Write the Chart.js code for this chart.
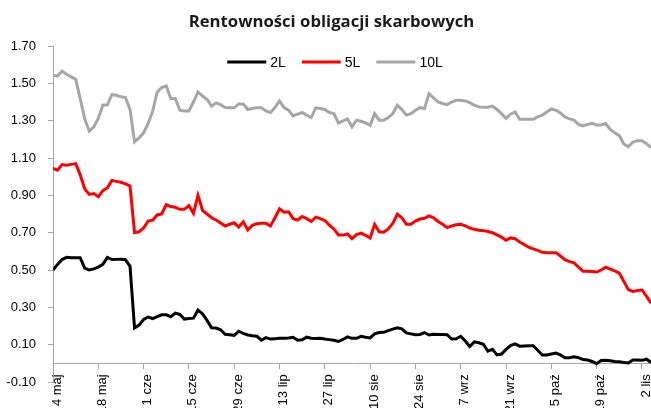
<!DOCTYPE html>
<html>
<head>
<meta charset="utf-8">
<script src="https://cdn.jsdelivr.net/npm/chart.js@4.4.1/dist/chart.umd.min.js"></script>
<style>
  html, body { margin: 0; padding: 0; background: #fff; }
  #wrap { width: 651px; height: 408px; }
</style>
</head>
<body>
<div id="wrap"><canvas id="rentownosci"></canvas></div>
<script>
// Rentowności obligacji skarbowych (dni robocze od 4 maja)

const tickLabels = ["4 maj", "18 maj", "1 cze", "15 cze", "29 cze", "13 lip", "27 lip",
  "10 sie", "24 sie", "7 wrz", "21 wrz", "5 paź", "19 paź", "2 lis"];

const seriesNames = ["2L", "5L", "10L"];

const y2L = [
  0.500, 0.530, 0.556, 0.568, 0.566, 0.566, 0.566, 0.510, 0.500, 0.506,
  0.516, 0.530, 0.568, 0.556, 0.557, 0.558, 0.555, 0.520, 0.190, 0.205,
  0.235, 0.248, 0.240, 0.250, 0.260, 0.260, 0.250, 0.269, 0.262, 0.237,
  0.240, 0.242, 0.285, 0.265, 0.230, 0.190, 0.189, 0.180, 0.156, 0.153,
  0.150, 0.172, 0.160, 0.152, 0.148, 0.145, 0.124, 0.138, 0.130, 0.132,
  0.134, 0.135, 0.136, 0.140, 0.124, 0.126, 0.140, 0.135, 0.133, 0.134,
  0.130, 0.127, 0.124, 0.117, 0.128, 0.142, 0.134, 0.134, 0.145, 0.140,
  0.136, 0.158, 0.165, 0.166, 0.175, 0.183, 0.190, 0.185, 0.163, 0.158,
  0.153, 0.155, 0.165, 0.152, 0.156, 0.155, 0.154, 0.153, 0.130, 0.132,
  0.145, 0.120, 0.090, 0.115, 0.110, 0.102, 0.065, 0.075, 0.045, 0.050,
  0.075, 0.095, 0.104, 0.092, 0.093, 0.094, 0.094, 0.070, 0.045, 0.045,
  0.050, 0.055, 0.045, 0.030, 0.030, 0.035, 0.030, 0.020, 0.018, 0.010,
  -0.002, 0.015, 0.017, 0.014, 0.010, 0.008, 0.005, 0.002, 0.018, 0.018,
  0.016, 0.022, 0.005
];

const y5L = [
  1.044, 1.035, 1.065, 1.062, 1.066, 1.070, 1.010, 0.935, 0.905, 0.910,
  0.893, 0.925, 0.940, 0.980, 0.975, 0.970, 0.962, 0.950, 0.700, 0.705,
  0.725, 0.762, 0.767, 0.795, 0.800, 0.850, 0.840, 0.836, 0.825, 0.825,
  0.845, 0.804, 0.900, 0.820, 0.800, 0.780, 0.768, 0.752, 0.736, 0.745,
  0.753, 0.730, 0.758, 0.714, 0.740, 0.748, 0.750, 0.750, 0.736, 0.780,
  0.828, 0.810, 0.812, 0.775, 0.768, 0.787, 0.775, 0.760, 0.783, 0.775,
  0.765, 0.740, 0.720, 0.688, 0.687, 0.693, 0.668, 0.690, 0.698, 0.686,
  0.672, 0.745, 0.705, 0.702, 0.720, 0.750, 0.800, 0.780, 0.745, 0.745,
  0.762, 0.773, 0.777, 0.790, 0.780, 0.760, 0.745, 0.727, 0.736, 0.742,
  0.745, 0.737, 0.725, 0.718, 0.713, 0.711, 0.706, 0.700, 0.688, 0.676,
  0.660, 0.672, 0.668, 0.650, 0.637, 0.622, 0.613, 0.605, 0.595, 0.593,
  0.593, 0.593, 0.575, 0.555, 0.545, 0.538, 0.515, 0.493, 0.494, 0.492,
  0.489, 0.500, 0.515, 0.505, 0.495, 0.483, 0.440, 0.395, 0.385, 0.390,
  0.393, 0.360, 0.322
];

const y10L = [
  1.543, 1.540, 1.565, 1.549, 1.535, 1.523, 1.420, 1.310, 1.244, 1.267,
  1.312, 1.383, 1.385, 1.440, 1.436, 1.428, 1.424, 1.360, 1.187, 1.208,
  1.235, 1.285, 1.350, 1.454, 1.477, 1.486, 1.419, 1.419, 1.356, 1.352,
  1.352, 1.400, 1.454, 1.432, 1.415, 1.378, 1.395, 1.386, 1.370, 1.369,
  1.369, 1.390, 1.390, 1.360, 1.365, 1.369, 1.369, 1.352, 1.344, 1.370,
  1.406, 1.370, 1.356, 1.326, 1.335, 1.344, 1.330, 1.317, 1.369, 1.365,
  1.360, 1.344, 1.338, 1.288, 1.299, 1.310, 1.267, 1.303, 1.297, 1.288,
  1.275, 1.338, 1.303, 1.303, 1.317, 1.338, 1.383, 1.360, 1.330, 1.338,
  1.356, 1.370, 1.365, 1.445, 1.422, 1.400, 1.392, 1.386, 1.400, 1.410,
  1.410, 1.406, 1.397, 1.383, 1.374, 1.372, 1.372, 1.378, 1.360, 1.338,
  1.312, 1.335, 1.347, 1.308, 1.308, 1.308, 1.308, 1.320, 1.330, 1.347,
  1.363, 1.356, 1.342, 1.320, 1.310, 1.303, 1.280, 1.272, 1.280, 1.286,
  1.277, 1.277, 1.285, 1.253, 1.235, 1.220, 1.175, 1.160, 1.186, 1.193,
  1.193, 1.177, 1.155
];

const lineColors = ["#000000", "#ff0000", "#a6a6a6"];
const axisColor = "#a6a6a6";

// punkty {x: numer dnia, y: rentowność}
const toPoints = (arr) => arr.map((v, i) => ({ x: i, y: v }));

// legenda rysowana wewnątrz obszaru wykresu, jak w Excelu
const legendInside = {
  id: "legendInside",
  afterLayout(chart) {
    // etykieta "-0.10" nie może być przycięta przez lewy margines
    chart.scales.y.left = 0;
  },
  afterDraw(chart) {
    const ctx = chart.ctx;
    const lineLen = 39;
    const gap = 4;
    const spacing = 16;
    ctx.save();
    ctx.font = '14px "Liberation Sans", Arial, sans-serif';
    ctx.textBaseline = "middle";
    let total = 0;
    chart.data.datasets.forEach((ds, i) => {
      total += lineLen + gap + ctx.measureText(ds.label).width;
      if (i > 0) total += spacing;
    });
    let x = 335 - total / 2;
    const y = chart.chartArea.top + 16;
    chart.data.datasets.forEach((ds) => {
      ctx.strokeStyle = ds.borderColor;
      ctx.lineWidth = 3;
      ctx.beginPath();
      ctx.moveTo(x, y);
      ctx.lineTo(x + lineLen, y);
      ctx.stroke();
      x += lineLen + gap;
      ctx.fillStyle = "#000";
      ctx.fillText(ds.label, x, y + 1);
      x += ctx.measureText(ds.label).width + spacing;
    });
    ctx.restore();
  },
};

const series = [y2L, y5L, y10L];

new Chart(document.getElementById("rentownosci"), {
  type: "line",
  data: {
    datasets: series.map((arr, i) => ({
      label: seriesNames[i],
      data: toPoints(arr),
      borderColor: lineColors[i],
      backgroundColor: lineColors[i],
      borderWidth: 3,
      pointRadius: 0,
      tension: 0,
    })),
  },
  options: {
    responsive: true,
    maintainAspectRatio: false,
    animation: false,
    layout: { padding: { left: 12, right: 0, top: 0, bottom: 26 } },
    plugins: {
      legend: { display: false },
      tooltip: { enabled: false },
      title: {
        display: true,
        text: "Rentowności obligacji skarbowych",
        color: "#1a1a1a",
        font: { family: '"Open Sans", sans-serif', size: 16.7, weight: "bold" },
        padding: { top: 12, bottom: 14 },
      },
    },
    scales: {
      x: {
        type: "linear",
        min: 0,
        max: y2L.length - 1,
        position: { y: 0 },
        grid: { drawOnChartArea: false, drawTicks: true, tickLength: 5, color: axisColor },
        border: { color: axisColor, width: 1 },
        ticks: {
          stepSize: 10,
          includeBounds: false,
          autoSkip: false,
          minRotation: 90,
          maxRotation: 90,
          padding: 6,
          labelOffset: 4,
          color: "#000",
          font: { family: '"Liberation Sans", Arial, sans-serif', size: 13 },
          callback: (value) => tickLabels[Math.round(value / 10)],
        },
        // etykiety mogą wychodzić poza obszar, jak w oryginale
        afterFit: (scale) => {
          scale.paddingLeft = 0;
          scale.paddingRight = 0;
        },
      },
      y: {
        min: -0.1,
        max: 1.7,
        grid: { drawOnChartArea: false, drawTicks: true, tickLength: 5, color: axisColor },
        border: { color: axisColor, width: 1 },
        ticks: {
          stepSize: 0.2,
          padding: 12,
          color: "#000",
          font: { family: '"Liberation Sans", Arial, sans-serif', size: 13 },
          callback: (value) => value.toFixed(2),
        },
        afterFit: (scale) => {
          scale.width = 41;
        },
      },
    },
  },
  plugins: [legendInside],
});
</script>
</body>
</html>
